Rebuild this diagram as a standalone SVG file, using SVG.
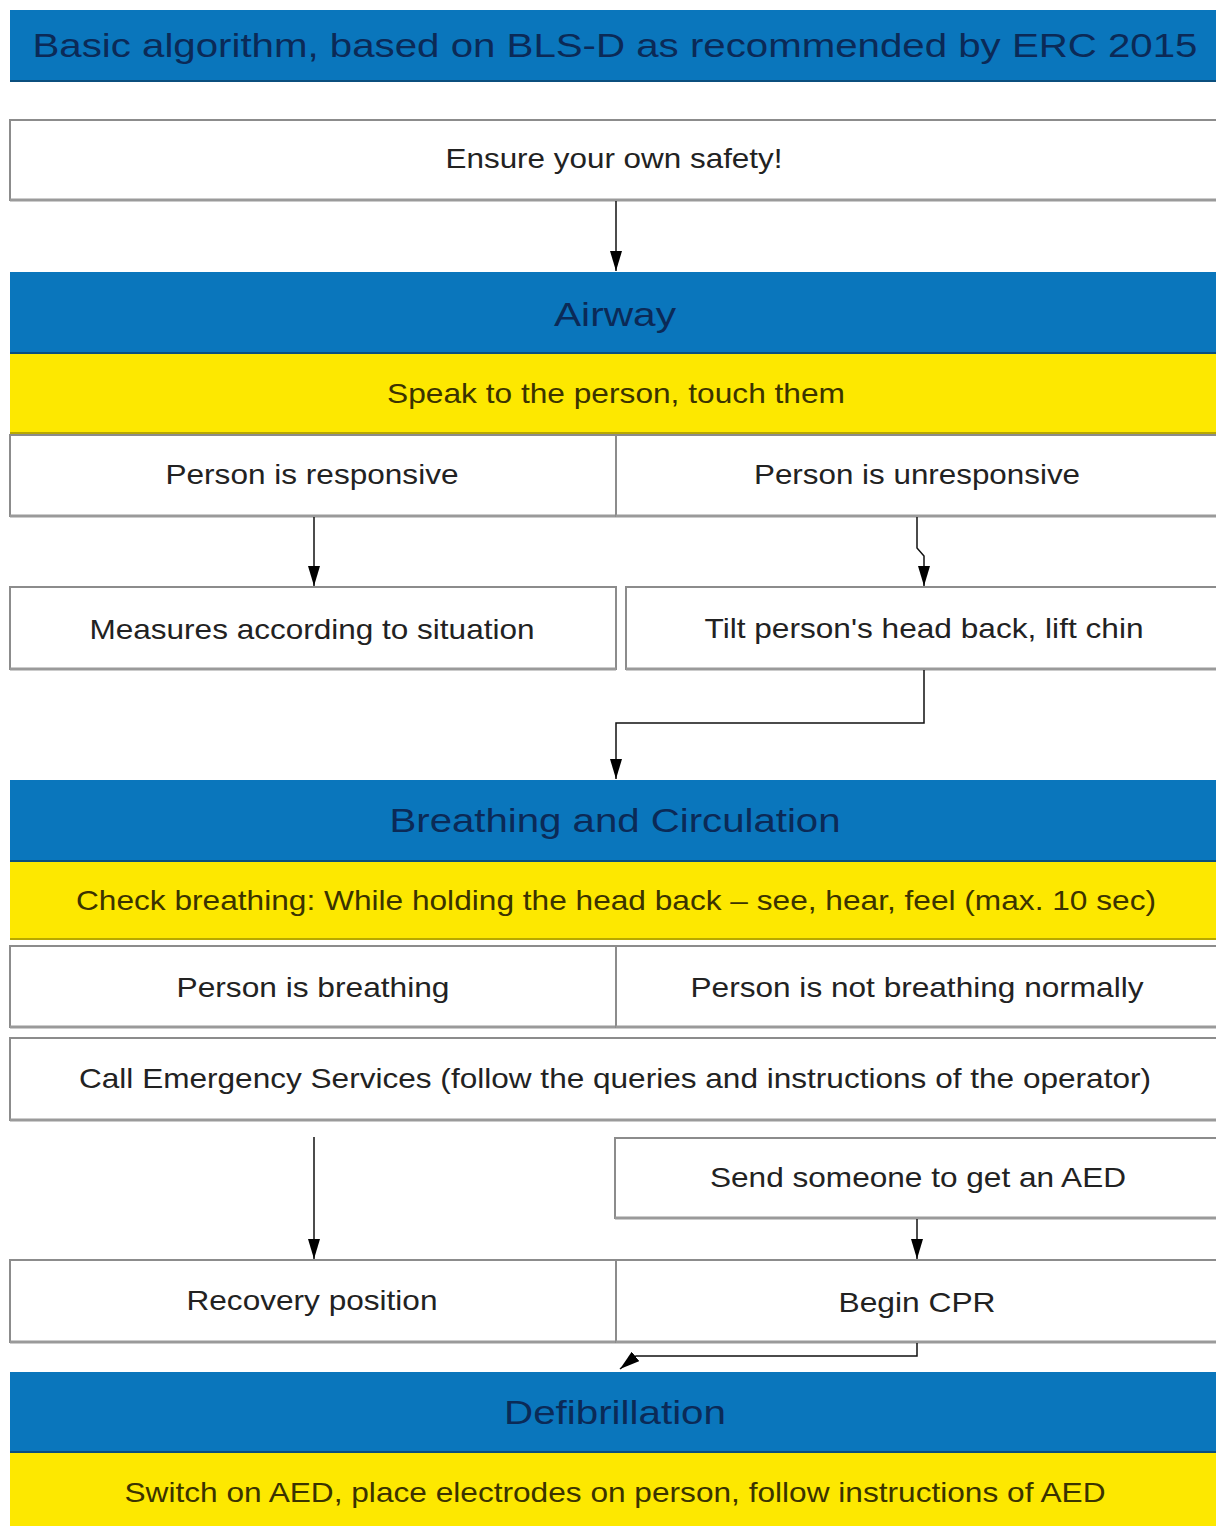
<svg xmlns="http://www.w3.org/2000/svg" width="1216" height="1526" viewBox="0 0 1216 1526">
<defs>
<style>
.bg{fill:#ffffff}
.blue{fill:#0a76bc}
.yel{fill:#fde800}
.box{fill:#ffffff;stroke:#8c8c8c;stroke-width:2}
.sh{stroke:#9a9a9a;stroke-width:3}
.bsh{stroke:#0b4f7e;stroke-width:2}
.ysh{stroke:#b8a800;stroke-width:2}
.ht{font-family:"Liberation Sans",Arial,sans-serif;font-size:34px;fill:#0b2a57;text-anchor:middle}
.yt{font-family:"Liberation Sans",Arial,sans-serif;font-size:28px;fill:#3b3300;text-anchor:middle}
.bt{font-family:"Liberation Sans",Arial,sans-serif;font-size:28px;fill:#222222;text-anchor:middle}
.ln{fill:none;stroke:#111111;stroke-width:1.5}
</style>
<marker id="ah" viewBox="0 0 20 12" refX="20" refY="6" markerWidth="20" markerHeight="12" markerUnits="userSpaceOnUse" orient="auto">
<path d="M0,0 L20,6 L0,12 Z" fill="#000"/>
</marker>
</defs>
<rect class="bg" x="0" y="0" width="1216" height="1526"/>

<g id="title">
<rect class="blue" x="10" y="10" width="1206" height="72"/>
<line class="bsh" x1="10" y1="81" x2="1216" y2="81"/>
<text class="ht" x="615" y="57" textLength="1165" lengthAdjust="spacingAndGlyphs">Basic algorithm, based on BLS-D as recommended by ERC 2015</text>
</g>

<g id="safety">
<rect class="box" x="10" y="120" width="1210" height="80"/>
<line class="sh" x1="10" y1="200" x2="1216" y2="200"/>
<text class="bt" x="614" y="168" textLength="337" lengthAdjust="spacingAndGlyphs">Ensure your own safety!</text>
</g>

<g id="airway">
<rect class="blue" x="10" y="272" width="1206" height="82"/>
<line class="bsh" x1="10" y1="353" x2="1216" y2="353"/>
<text class="ht" x="615" y="326" textLength="122" lengthAdjust="spacingAndGlyphs">Airway</text>
</g>

<g id="speak">
<rect class="yel" x="10" y="354" width="1206" height="80"/>
<line class="ysh" x1="10" y1="433" x2="1216" y2="433"/>
<text class="yt" x="616" y="403" textLength="458" lengthAdjust="spacingAndGlyphs">Speak to the person, touch them</text>
</g>

<g id="responsive">
<rect class="box" x="10" y="435" width="606" height="81"/>
<line class="sh" x1="10" y1="516" x2="616" y2="516"/>
<text class="bt" x="312" y="484" textLength="293" lengthAdjust="spacingAndGlyphs">Person is responsive</text>
</g>

<g id="unresponsive">
<rect class="box" x="616" y="435" width="604" height="81"/>
<line class="sh" x1="616" y1="516" x2="1216" y2="516"/>
<text class="bt" x="917" y="484" textLength="326" lengthAdjust="spacingAndGlyphs">Person is unresponsive</text>
</g>

<g id="measures">
<rect class="box" x="10" y="587" width="606" height="82"/>
<line class="sh" x1="10" y1="669" x2="616" y2="669"/>
<text class="bt" x="312" y="639" textLength="445" lengthAdjust="spacingAndGlyphs">Measures according to situation</text>
</g>

<g id="tilt">
<rect class="box" x="626" y="587" width="594" height="82"/>
<line class="sh" x1="626" y1="669" x2="1216" y2="669"/>
<text class="bt" x="924" y="638" textLength="439" lengthAdjust="spacingAndGlyphs">Tilt person's head back, lift chin</text>
</g>

<g id="breathing-circ">
<rect class="blue" x="10" y="780" width="1206" height="82"/>
<line class="bsh" x1="10" y1="861" x2="1216" y2="861"/>
<text class="ht" x="615" y="832" textLength="451" lengthAdjust="spacingAndGlyphs">Breathing and Circulation</text>
</g>

<g id="check">
<rect class="yel" x="10" y="862" width="1206" height="78"/>
<line class="ysh" x1="10" y1="939" x2="1216" y2="939"/>
<text class="yt" x="616" y="910" textLength="1080" lengthAdjust="spacingAndGlyphs">Check breathing: While holding the head back – see, hear, feel (max. 10 sec)</text>
</g>

<g id="is-breathing">
<rect class="box" x="10" y="946" width="606" height="81"/>
<line class="sh" x1="10" y1="1027" x2="616" y2="1027"/>
<text class="bt" x="313" y="997" textLength="273" lengthAdjust="spacingAndGlyphs">Person is breathing</text>
</g>

<g id="not-breathing">
<rect class="box" x="616" y="946" width="604" height="81"/>
<line class="sh" x1="616" y1="1027" x2="1216" y2="1027"/>
<text class="bt" x="917" y="997" textLength="453" lengthAdjust="spacingAndGlyphs">Person is not breathing normally</text>
</g>

<g id="call">
<rect class="box" x="10" y="1038" width="1210" height="82"/>
<line class="sh" x1="10" y1="1120" x2="1216" y2="1120"/>
<text class="bt" x="615" y="1088" textLength="1072" lengthAdjust="spacingAndGlyphs">Call Emergency Services (follow the queries and instructions of the operator)</text>
</g>

<g id="send-aed">
<rect class="box" x="615" y="1138" width="605" height="80"/>
<line class="sh" x1="615" y1="1218" x2="1216" y2="1218"/>
<text class="bt" x="918" y="1187" textLength="416" lengthAdjust="spacingAndGlyphs">Send someone to get an AED</text>
</g>

<g id="recovery">
<rect class="box" x="10" y="1260" width="606" height="82"/>
<line class="sh" x1="10" y1="1342" x2="616" y2="1342"/>
<text class="bt" x="312" y="1310" textLength="251" lengthAdjust="spacingAndGlyphs">Recovery position</text>
</g>

<g id="cpr">
<rect class="box" x="616" y="1260" width="604" height="82"/>
<line class="sh" x1="616" y1="1342" x2="1216" y2="1342"/>
<text class="bt" x="917" y="1312" textLength="157" lengthAdjust="spacingAndGlyphs">Begin CPR</text>
</g>

<g id="defib">
<rect class="blue" x="10" y="1372" width="1206" height="81"/>
<line class="bsh" x1="10" y1="1452" x2="1216" y2="1452"/>
<text class="ht" x="615" y="1424" textLength="222" lengthAdjust="spacingAndGlyphs">Defibrillation</text>
</g>

<g id="switch-aed">
<rect class="yel" x="10" y="1453" width="1206" height="73"/>
<text class="yt" x="615" y="1502" textLength="981" lengthAdjust="spacingAndGlyphs">Switch on AED, place electrodes on person, follow instructions of AED</text>
</g>

<g id="connectors">
<path class="ln" d="M616,201 L616,271" marker-end="url(#ah)"/>
<path class="ln" d="M314,517 L314,586" marker-end="url(#ah)"/>
<path class="ln" d="M917,517 L917,548 L924,556 L924,586" marker-end="url(#ah)"/>
<path class="ln" d="M924,670 L924,723 L616,723 L616,779" marker-end="url(#ah)"/>
<path class="ln" d="M314,1137 L314,1259" marker-end="url(#ah)"/>
<path class="ln" d="M917,1219 L917,1259" marker-end="url(#ah)"/>
<path class="ln" d="M917,1343 L917,1356 L636,1356 L620,1369" marker-end="url(#ah)"/>
</g>
</svg>
